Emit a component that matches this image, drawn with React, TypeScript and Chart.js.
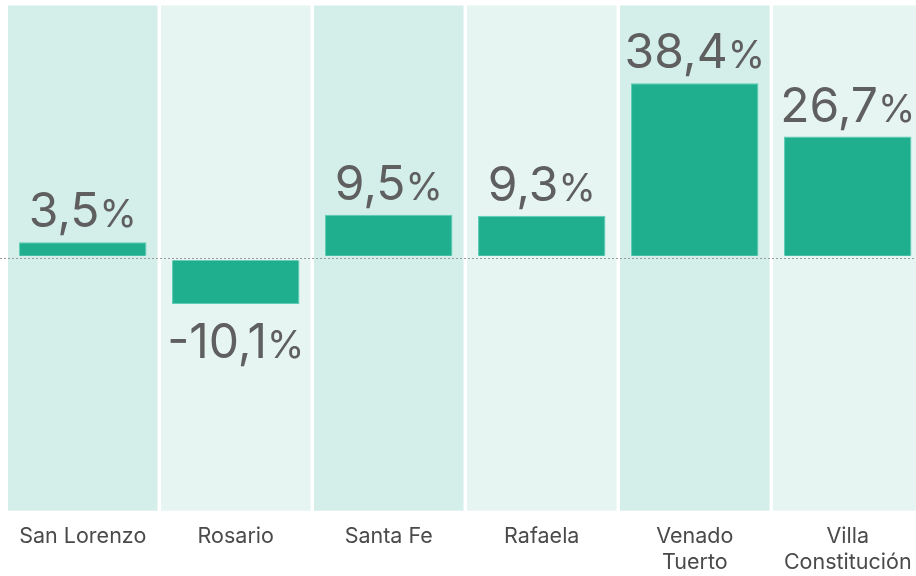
import React, { useEffect, useRef } from 'react';
import { Chart, registerables } from 'chart.js';

Chart.register(...registerables);

const categories: string[][] = [
  ['San Lorenzo'],
  ['Rosario'],
  ['Santa Fe'],
  ['Rafaela'],
  ['Venado', 'Tuerto'],
  ['Villa', 'Constitución'],
];
const values: number[] = [3.5, -10.1, 9.5, 9.3, 38.4, 26.7];
const yMin = -55.5;
const yMax = 55.5;

const columnColors = ['#d4eee9', '#e6f5f2'];
const barColor = '#1faf8f';
const barBorder = '#5dcdb4';
const labelColor = '#5f5f5f';
const tickColor = '#4a4a4a';
const FONT = 'Inter, "Noto Sans", sans-serif';

const fmt = (v: number) => v.toFixed(1).replace('.', ',');

const decorPlugin = {
  id: 'decor',
  beforeDatasetsDraw(chart: any) {
    const { ctx, chartArea, scales } = chart;
    const x = scales.x;
    const pitch = (chartArea.right - chartArea.left) / categories.length;
    ctx.save();
    categories.forEach((_, i) => {
      const cx = x.getPixelForValue(i);
      ctx.fillStyle = columnColors[i % 2];
      ctx.fillRect(cx - pitch / 2 + 1.75, chartArea.top, pitch - 3.5, chartArea.bottom - chartArea.top);
    });
    ctx.restore();
  },
  afterDatasetsDraw(chart: any) {
    const { ctx, scales } = chart;
    const y = scales.y;
    const zeroY = y.getPixelForValue(0);
    const meta = chart.getDatasetMeta(0);
    ctx.save();
    // small gap between bars and the zero line
    meta.data.forEach((el: any, i: number) => {
      ctx.fillStyle = columnColors[i % 2];
      ctx.fillRect(el.x - el.width / 2 - 1, zeroY - 2.3, el.width + 2, 4.6);
    });
    // dotted zero line
    ctx.strokeStyle = '#9a9a9a';
    ctx.lineWidth = 1;
    ctx.setLineDash([2, 2]);
    ctx.beginPath();
    ctx.moveTo(0, Math.round(zeroY) + 0.5);
    ctx.lineTo(chart.width, Math.round(zeroY) + 0.5);
    ctx.stroke();
    ctx.setLineDash([]);
    // value labels
    meta.data.forEach((el: any, i: number) => {
      const v = values[i];
      const num = fmt(v);
      ctx.font = `400 48px ${FONT}`;
      const nw = ctx.measureText(num).width;
      ctx.font = `400 38px ${FONT}`;
      const pw = ctx.measureText('%').width;
      const total = nw + pw;
      const sx = el.x - total / 2;
      const baseY = v >= 0 ? el.y - 15 : el.y + 54;
      ctx.fillStyle = labelColor;
      ctx.textBaseline = 'alphabetic';
      ctx.textAlign = 'left';
      ctx.font = `400 48px ${FONT}`;
      ctx.fillText(num, sx, baseY);
      ctx.font = `400 38px ${FONT}`;
      ctx.fillText('%', sx + nw, baseY);
    });
    ctx.restore();
  },
};

export default function App() {
  const canvasRef = useRef<HTMLCanvasElement | null>(null);

  useEffect(() => {
    if (!canvasRef.current) return;
    const chart = new Chart(canvasRef.current, {
      type: 'bar',
      data: {
        labels: categories,
        datasets: [
          {
            data: values,
            backgroundColor: barColor,
            borderColor: barBorder,
            borderWidth: 1,
            borderSkipped: false,
            categoryPercentage: 1,
            barPercentage: 0.833,
          },
        ],
      },
      options: {
        animation: false,
        responsive: false,
        devicePixelRatio: 1,
        layout: { padding: { left: 6.25, right: 0.75, top: 5.5, bottom: 0 } },
        plugins: {
          legend: { display: false },
          tooltip: { enabled: false },
        },
        scales: {
          x: {
            grid: { display: false, drawTicks: false },
            border: { display: false },
            ticks: {
              padding: 13,
              color: tickColor,
              font: { family: FONT, size: 21.5, lineHeight: 1.21 },
              maxRotation: 0,
              autoSkip: false,
            },
            afterFit(scale: any) {
              scale.height = 65.3;
            },
          },
          y: {
            display: false,
            min: yMin,
            max: yMax,
          },
        },
      },
      plugins: [decorPlugin],
    });
    return () => chart.destroy();
  }, []);

  return (
    <div style={{ position: 'fixed', left: 0, top: 0, width: 916, height: 576, overflow: 'hidden', background: '#fff' }}>
      <canvas ref={canvasRef} width={925} height={576} style={{ display: 'block', width: 925, height: 576 }} />
    </div>
  );
}
